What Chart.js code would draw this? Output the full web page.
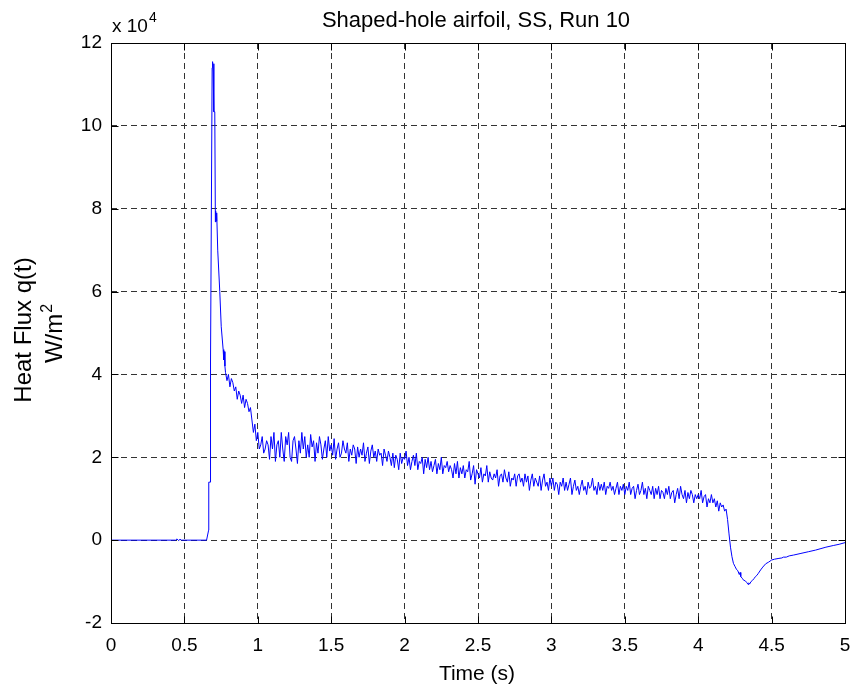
<!DOCTYPE html>
<html lang="en">
<head>
<meta charset="UTF-8">
<title>Shaped-hole airfoil, SS, Run 10</title>
<script src="https://cdn.jsdelivr.net/npm/chart.js"></script>
<style>
  body { margin: 0; background: #fff; }
  #wrap { width: 854px; height: 688px; }
</style>
</head>
<body>
<div id="wrap"><canvas id="fluxChart" width="854" height="688"></canvas></div>
<script>
// heat flux q(t), in units of 10^4 W/m^2

// flat start + the spike
const riseTimes = [0, 0.3, 0.44, 0.45, 0.46, 0.47, 0.48, 0.651, 0.665, 0.666, 0.675, 0.676, 0.68,
  0.689, 0.692, 0.696, 0.70, 0.701, 0.707, 0.711, 0.713, 0.716, 0.72, 0.727, 0.741, 0.751,
  0.764, 0.768, 0.772, 0.776, 0.78, 0.79];
const riseFlux = [0, 0, 0, 0.03, -0.01, 0.02, 0, 0, 0.24, 1.4, 1.4, 4.3, 4.3,
  11.4, 11.55, 11.3, 11.5, 10.34, 10.34, 7.68, 7.95, 7.7, 7.9, 7.0, 6.0, 5.15,
  4.6, 4.35, 4.55, 4.2, 4.05, 3.85];

// noisy decay, sampled every 10 ms from 0.80 s
const noiseStart = 0.80;
const noiseStep = 0.01;
const noiseFlux = [
  4.0, 3.7, 3.9, 3.8, 3.6, 3.7, 3.4, 3.6, 3.5, 3.3,
  3.5, 3.2, 3.4, 3.3, 3.1, 3.2, 2.9, 2.6, 2.8, 2.4,
  2.6, 2.2, 2.3, 2.5, 2.1, 2.2, 2.4, 2.3, 1.95, 2.5,
  2.2, 2.6, 1.9, 2.3, 2.4, 2.0, 2.6, 2.2, 1.9, 2.5,
  2.3, 2.6, 2.0, 1.9, 2.4, 2.5, 2.2, 1.85, 2.4, 2.1,
  2.6, 2.2, 2.5, 2.0, 2.3, 2.0, 2.55, 2.25, 2.4, 1.9,
  2.35, 2.1, 2.5, 2.3, 1.95, 2.2, 2.4, 2.0, 2.5, 2.15,
  2.3, 2.05, 2.45, 1.95, 2.2, 2.35, 2.0, 2.1, 2.4, 2.2,
  2.1, 2.35, 1.9, 2.2, 2.05, 2.3, 2.2, 1.85, 2.25, 2.0,
  2.2, 2.05, 2.35, 1.9, 2.1, 2.25, 1.85, 2.15, 2.3, 2.0,
  2.15, 1.9, 2.2, 2.05, 2.1, 1.8, 2.2, 2.05, 1.9, 2.15,
  2.0, 1.8, 2.1, 1.75, 2.05, 1.95, 1.7, 2.1, 1.85, 2.0,
  1.95, 2.15, 1.8, 2.0, 1.7, 1.9, 2.05, 1.8, 2.1, 1.7,
  1.9, 1.85, 2.0, 1.6, 1.95, 1.75, 2.0, 1.7, 1.9, 1.65,
  1.8, 1.95, 1.6, 1.85, 1.7, 2.0, 1.6, 1.8, 1.75, 1.9,
  1.65, 1.8, 1.7, 1.5, 1.85, 1.6, 1.9, 1.5, 1.75, 1.6,
  1.8, 1.5, 1.7, 1.65, 1.9, 1.45, 1.6, 1.8, 1.35, 1.7,
  1.6, 1.5, 1.75, 1.4, 1.6, 1.55, 1.8, 1.4, 1.65, 1.5,
  1.45, 1.6, 1.5, 1.7, 1.3, 1.55, 1.6, 1.4, 1.7, 1.5,
  1.4, 1.65, 1.3, 1.5, 1.45, 1.6, 1.3, 1.55, 1.6, 1.4,
  1.5, 1.3, 1.6, 1.4, 1.55, 1.2, 1.45, 1.6, 1.3, 1.5,
  1.4, 1.3, 1.55, 1.2, 1.45, 1.6, 1.3, 1.4, 1.2, 1.5,
  1.3, 1.5, 1.2, 1.4, 1.35, 1.1, 1.4, 1.3, 1.5, 1.2,
  1.4, 1.2, 1.35, 1.5, 1.1, 1.3, 1.45, 1.2, 1.3, 1.1,
  1.3, 1.45, 1.2, 1.3, 1.1, 1.4, 1.25, 1.3, 1.5, 1.2,
  1.3, 1.1, 1.4, 1.2, 1.35, 1.2, 1.4, 1.1, 1.3, 1.25,
  1.4, 1.2, 1.3, 1.1, 1.25, 1.4, 1.1, 1.3, 1.2, 1.35,
  1.1, 1.3, 1.2, 1.4, 1.1, 1.25, 1.3, 1.0, 1.2, 1.35,
  1.1, 1.2, 1.4, 1.1, 1.25, 1.0, 1.3, 1.2, 1.1, 1.3,
  1.0, 1.25, 1.1, 1.3, 1.0, 1.2, 1.15, 1.0, 1.25, 1.1,
  1.3, 1.0, 1.15, 1.2, 0.9, 1.1, 1.25, 1.0, 1.3, 1.1,
  1.0, 1.2, 0.9, 1.15, 1.0, 1.2, 1.1, 0.9, 1.1, 1.0,
  1.1, 1.0, 1.2, 0.9, 1.05, 1.1, 0.8, 1.0, 0.9, 1.1,
  0.9, 1.0, 0.8, 0.95, 0.7, 0.9, 0.8, 0.85, 0.7, 0.75
];

// drop below zero and recovery
const tailTimes = [4.195, 4.20, 4.21, 4.22, 4.23, 4.24, 4.25, 4.26, 4.27, 4.28, 4.285, 4.29, 4.30,
  4.31, 4.32, 4.33, 4.34, 4.345, 4.35, 4.36, 4.37, 4.38, 4.39, 4.40, 4.41, 4.425, 4.44, 4.46,
  4.48, 4.50, 4.52, 4.55, 4.57, 4.58, 4.60, 4.62, 4.65, 4.70, 4.75, 4.80, 4.83, 4.87, 4.92,
  4.96, 5.0];
const tailFlux = [0.75, 0.5, 0.15, -0.17, -0.4, -0.56, -0.63, -0.7, -0.74, -0.83, -0.78, -0.88, -0.92,
  -0.97, -0.98, -1.02, -1.07, -1.03, -1.06, -1.0, -0.97, -0.93, -0.88, -0.85, -0.8, -0.72, -0.65, -0.57,
  -0.53, -0.48, -0.46, -0.44, -0.43, -0.41, -0.41, -0.38, -0.36, -0.32, -0.28, -0.24, -0.21, -0.17, -0.13,
  -0.1, -0.06];

const xTicks = [0, 0.5, 1, 1.5, 2, 2.5, 3, 3.5, 4, 4.5, 5];
const yTicks = [-2, 0, 2, 4, 6, 8, 10, 12];

const FONT = "'Liberation Sans', Arial, Helvetica, sans-serif";

const points = [];
riseTimes.forEach((t, i) => points.push({ x: t, y: riseFlux[i] }));
noiseFlux.forEach((v, i) => points.push({ x: +(noiseStart + i * noiseStep).toFixed(3), y: v }));
tailTimes.forEach((t, i) => points.push({ x: t, y: tailFlux[i] }));

// matlab style frame, inner ticks and the labels
const matlabDecor = {
  id: 'matlabDecor',
  afterDraw(chart) {
    const { ctx, chartArea: a, scales } = chart;
    const L = a.left + 0.5, R = a.right + 0.5, T = a.top + 0.5, B = a.bottom + 0.5;
    ctx.save();
    ctx.strokeStyle = '#000';
    ctx.lineWidth = 1;
    ctx.beginPath();
    xTicks.forEach(v => {
      const px = Math.round(scales.x.getPixelForValue(v)) + 0.5;
      ctx.moveTo(px, B); ctx.lineTo(px, B - 7);
      ctx.moveTo(px, T); ctx.lineTo(px, T + 7);
    });
    yTicks.forEach(v => {
      const py = Math.round(scales.y.getPixelForValue(v)) + 0.5;
      ctx.moveTo(L, py); ctx.lineTo(L + 7, py);
      ctx.moveTo(R, py); ctx.lineTo(R - 7, py);
    });
    ctx.stroke();
    ctx.strokeRect(L, T, R - L, B - T);

    ctx.fillStyle = '#000';
    ctx.textBaseline = 'alphabetic';

    // title
    ctx.font = '22px ' + FONT;
    ctx.textAlign = 'center';
    ctx.fillText('Shaped-hole airfoil, SS, Run 10', 476, 27);

    // x label
    ctx.font = '21px ' + FONT;
    ctx.fillText('Time (s)', 477, 680);

    // exponent
    ctx.textAlign = 'left';
    ctx.font = '19px ' + FONT;
    ctx.fillText('x 10', 112, 32);
    const w10 = ctx.measureText('x 10').width;
    ctx.font = '14px ' + FONT;
    ctx.fillText('4', 112 + w10 + 1, 22);

    // y label, two lines
    ctx.save();
    ctx.translate(31, 330);
    ctx.rotate(-Math.PI / 2);
    ctx.textAlign = 'center';
    ctx.font = '24px ' + FONT;
    ctx.fillText('Heat Flux q(t)', 0, 0);
    ctx.restore();

    ctx.save();
    ctx.translate(62, 334);
    ctx.rotate(-Math.PI / 2);
    ctx.textAlign = 'left';
    ctx.font = '24px ' + FONT;
    const w1 = ctx.measureText('W/m').width;
    ctx.font = '16px ' + FONT;
    const w2 = ctx.measureText('2').width;
    const x0 = -(w1 + w2) / 2;
    ctx.font = '24px ' + FONT;
    ctx.fillText('W/m', x0, 0);
    ctx.font = '16px ' + FONT;
    ctx.fillText('2', x0 + w1 + 1, -10);
    ctx.restore();

    ctx.restore();
  }
};

new Chart(document.getElementById('fluxChart'), {
  type: 'line',
  data: {
    datasets: [{
      data: points,
      borderColor: '#0000ff',
      borderWidth: 1,
      pointRadius: 0,
      tension: 0,
      fill: false
    }]
  },
  options: {
    responsive: false,
    animation: false,
    devicePixelRatio: 1,
    layout: { padding: { left: 0, top: 43, right: 9, bottom: 0 } },
    plugins: { legend: { display: false }, tooltip: { enabled: false } },
    scales: {
      x: {
        type: 'linear',
        min: 0,
        max: 5,
        afterBuildTicks: s => { s.ticks = xTicks.map(v => ({ value: v })); },
        afterFit: s => { s.height = 65; s.paddingLeft = 0; s.paddingRight = 0; },
        grid: { color: '#333', lineWidth: 1, drawTicks: false },
        border: { display: false, dash: [6, 4] },
        ticks: {
          padding: 11, color: '#000', maxRotation: 0, autoSkip: false,
          font: { family: FONT, size: 19 },
          callback: v => String(v)
        }
      },
      y: {
        type: 'linear',
        min: -2,
        max: 12,
        afterBuildTicks: s => { s.ticks = yTicks.map(v => ({ value: v })); },
        afterFit: s => { s.width = 111; s.paddingTop = 0; s.paddingBottom = 0; },
        grid: { color: '#333', lineWidth: 1, drawTicks: false },
        border: { display: false, dash: [6, 4] },
        ticks: {
          padding: 9, color: '#000',
          font: { family: FONT, size: 19 },
          callback: v => String(v)
        }
      }
    }
  },
  plugins: [matlabDecor]
});
</script>
</body>
</html>
